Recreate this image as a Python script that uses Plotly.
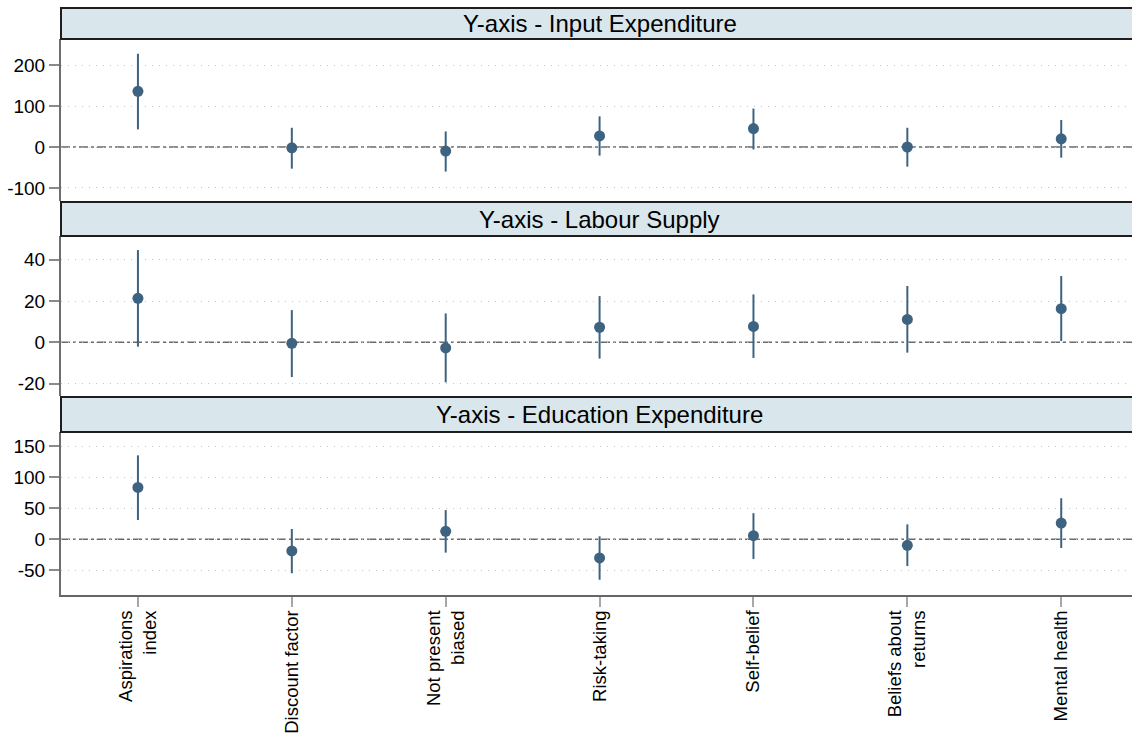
import plotly.graph_objects as go

categories = ["Aspirations<br>index", "Discount factor", "Not present<br>biased",
              "Risk-taking", "Self-belief", "Beliefs about<br>returns", "Mental health"]
xpos = [1, 2, 3, 4, 5, 6, 7]

panel_titles = ["Y-axis - Input Expenditure", "Y-axis - Labour Supply", "Y-axis - Education Expenditure"]

input_est = [136, -2, -10, 27, 45, 0, 20]
input_lo = [43, -53, -60, -21, -6, -48, -26]
input_hi = [228, 47, 38, 75, 94, 47, 66]

labour_est = [21.3, -0.5, -2.7, 7.3, 7.7, 11.1, 16.3]
labour_lo = [-2.1, -16.8, -19.4, -7.9, -7.6, -5.0, 0.6]
labour_hi = [44.7, 15.6, 14.0, 22.4, 23.2, 27.3, 32.1]

educ_est = [83.4, -18.7, 12.8, -30.0, 5.9, -9.6, 26.2]
educ_lo = [31, -54.5, -21.4, -65, -31.5, -43, -14]
educ_hi = [135, 16.6, 47, 4.8, 42, 24, 66]

input_ticks = [-100, 0, 100, 200]
labour_ticks = [-20, 0, 20, 40]
educ_ticks = [-50, 0, 50, 100, 150]

W, H = 1132, 737
BOTTOM = 595  # pixel of bottom of lowest plot area


def frac(p):
    return (BOTTOM - p) / BOTTOM


panels = [
    dict(est=input_est, lo=input_lo, hi=input_hi, ticks=input_ticks, rng=[-132, 264],
         plot=(39, 201), head=(8, 39)),
    dict(est=labour_est, lo=labour_lo, hi=labour_hi, ticks=labour_ticks, rng=[-26, 51.5],
         plot=(236, 396), head=(202, 236)),
    dict(est=educ_est, lo=educ_lo, hi=educ_hi, ticks=educ_ticks, rng=[-89.5, 172.5],
         plot=(432, 595), head=(397, 432)),
]

COL = "#3d6381"
FONT = "Liberation Sans, Arial, sans-serif"

fig = go.Figure()
layout = dict(
    width=W, height=H,
    margin=dict(l=61, r=0, t=0, b=H - BOTTOM, pad=0),
    paper_bgcolor="white", plot_bgcolor="white",
    showlegend=False,
    font=dict(family=FONT, color="black", size=19),
    shapes=[], annotations=[],
)

for i, p in enumerate(panels):
    n = i + 1
    xa = "x" if n == 1 else f"x{n}"
    ya = "y" if n == 1 else f"y{n}"
    err_plus = [h - e for h, e in zip(p["hi"], p["est"])]
    err_minus = [e - l for e, l in zip(p["est"], p["lo"])]
    fig.add_trace(go.Scatter(
        x=xpos, y=p["est"], mode="markers", xaxis=xa, yaxis=ya,
        marker=dict(color=COL, size=11),
        error_y=dict(type="data", symmetric=False, array=err_plus, arrayminus=err_minus,
                     color=COL, thickness=2, width=0),
    ))
    last = (n == 3)
    layout["xaxis" if n == 1 else f"xaxis{n}"] = dict(
        domain=[0, 1], anchor=ya, range=[0.5, 7.46],
        tickvals=xpos, ticktext=categories if last else [""] * 7,
        showticklabels=last, ticks="outside" if last else "",
        ticklen=10, tickwidth=1.5, tickcolor="#a8a8a8",
        tickangle=-90, tickfont=dict(size=18.5, family=FONT),
        ticklabelstandoff=-4,
        showline=last, linecolor="#666666", linewidth=2,
        showgrid=False, zeroline=False,
        matches=None if n == 1 else "x",
    )
    layout["yaxis" if n == 1 else f"yaxis{n}"] = dict(
        domain=[frac(p["plot"][1]), frac(p["plot"][0])], anchor=xa,
        range=p["rng"], tickvals=p["ticks"], ticktext=[str(t) for t in p["ticks"]],
        ticks="outside", ticklen=10, tickwidth=1.5, tickcolor="#8a8a8a",
        tickfont=dict(size=19, family=FONT),
        showline=True, linecolor="#6e6e6e", linewidth=2,
        showgrid=True, gridcolor="#c4c4c4", gridwidth=1, griddash="1px,6px",
        zeroline=False,
    )
    # zero reference line
    layout["shapes"].append(dict(
        type="line", xref=f"{xa} domain", yref=ya, x0=0, x1=1, y0=0, y1=0,
        line=dict(color="#6a6a6a", width=1.5, dash="9px,3px,3px,3px"), layer="below",
    ))
    # header strip
    layout["shapes"].append(dict(
        type="rect", xref="paper", yref="paper", x0=0, x1=1.02,
        y0=frac(p["head"][1]), y1=frac(p["head"][0]),
        fillcolor="#d9e6eb", line=dict(color="#1e1e1e", width=2), layer="above",
    ))
    layout["annotations"].append(dict(
        text=panel_titles[i], xref=xa, yref="paper", x=4,
        y=(frac(p["head"][1]) + frac(p["head"][0])) / 2,
        xanchor="center", yanchor="middle", showarrow=False,
        font=dict(size=24, family=FONT, color="black"),
    ))

fig.update_layout(**layout)
fig.write_html("out.html", config={"displayModeBar": False},
               post_script="document.body.style.margin='0';")
